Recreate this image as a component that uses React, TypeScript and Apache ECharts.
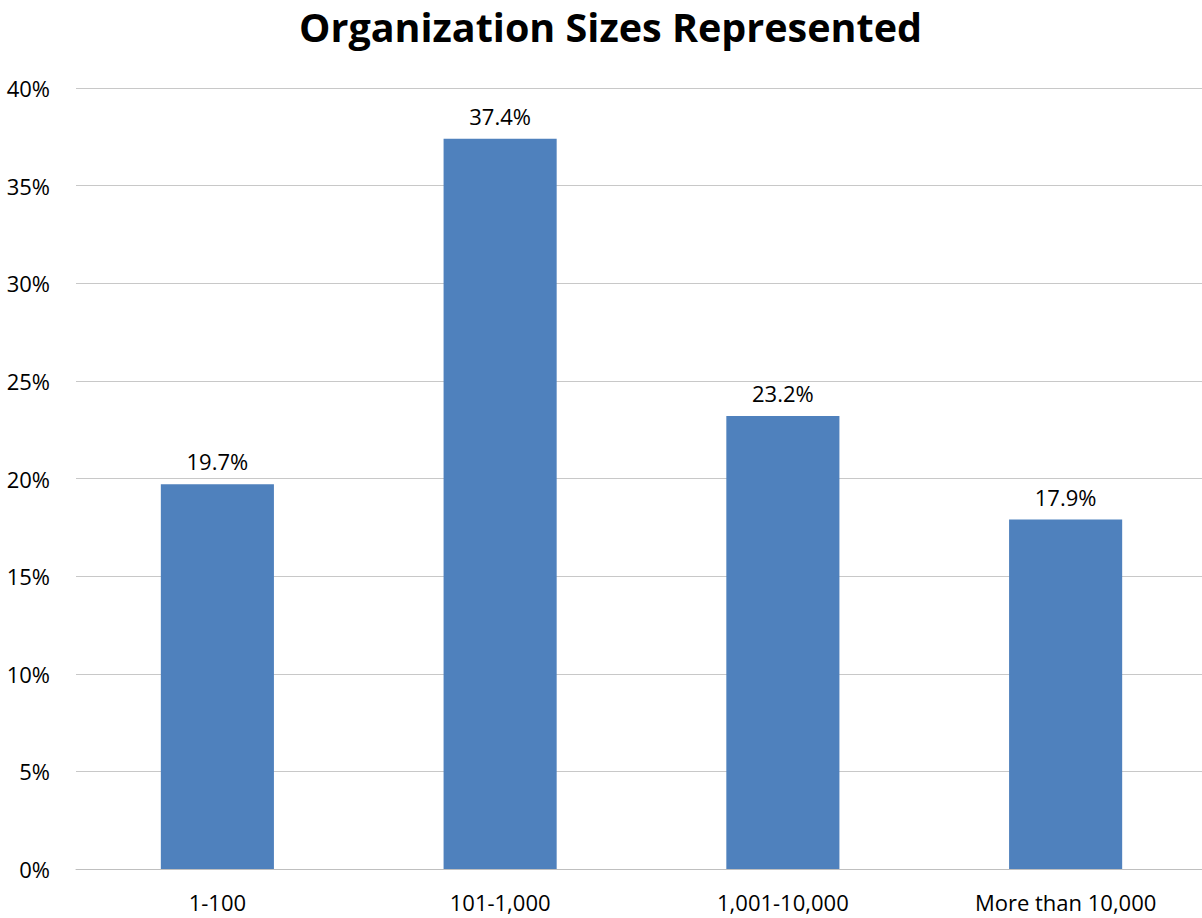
import React, { useEffect, useRef } from "react";
import * as echarts from "echarts";

const categories = ["1-100", "101-1,000", "1,001-10,000", "More than 10,000"];
const values = [19.7, 37.4, 23.2, 17.9];
const yTicks = [0, 5, 10, 15, 20, 25, 30, 35, 40];

const FONT = "'Open Sans', 'Liberation Sans', sans-serif";

export default function App() {
  const ref = useRef<HTMLDivElement>(null);
  useEffect(() => {
    document.body.style.margin = "0";
    const chart = echarts.init(ref.current!, null, { renderer: "svg" });
    chart.setOption({
      animation: false,
      backgroundColor: "#ffffff",
      title: {
        text: "Organization Sizes Represented",
        left: 294,
        top: 2,
        textStyle: { fontFamily: FONT, fontWeight: "bold", fontSize: 39.5, color: "#000000" },
      },
      grid: { left: 76, right: 3, top: 88, bottom: 49, containLabel: false },
      xAxis: {
        type: "category",
        data: categories,
        axisLine: { show: true, lineStyle: { color: "#bfbfbf", width: 1 } },
        axisTick: { show: false },
        axisLabel: { fontFamily: FONT, fontSize: 22, color: "#000000", margin: 22 },
      },
      yAxis: {
        type: "value",
        min: yTicks[0],
        max: yTicks[yTicks.length - 1],
        interval: 5,
        axisLine: { show: false },
        axisTick: { show: false },
        splitLine: { lineStyle: { color: "#c8c8c8", width: 1 } },
        axisLabel: {
          fontFamily: FONT,
          fontSize: 22,
          color: "#000000",
          margin: 26,
          formatter: (v: number) => v + "%",
        },
      },
      series: [
        {
          type: "bar",
          data: values,
          barWidth: "40%",
          itemStyle: { color: "#4f81bd" },
          label: {
            show: true,
            position: "top",
            distance: 12,
            fontFamily: FONT,
            fontSize: 22,
            color: "#000000",
            formatter: (p: any) => p.value.toFixed(1) + "%",
          },
        },
      ],
    });
    return () => chart.dispose();
  }, []);
  return (
    <div style={{ width: 1202, height: 918, overflow: "hidden", position: "relative" }}>
      <div ref={ref} style={{ width: 1210, height: 918 }} />
    </div>
  );
}
